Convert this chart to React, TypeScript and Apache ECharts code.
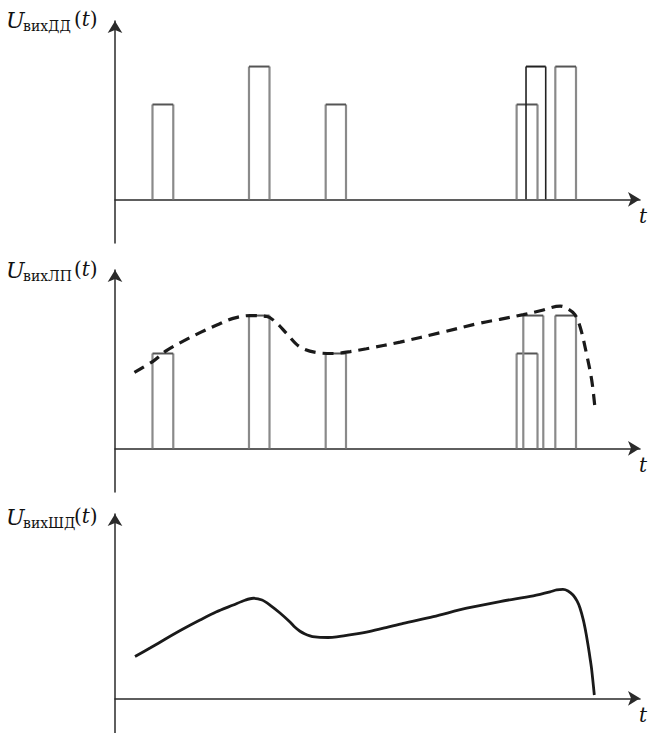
import React, { useEffect, useRef } from "react";
import * as echarts from "echarts";

// time positions (arbitrary units, 0..100 along t) of the pulse edges
const pulseStartsDD = [7.14, 25.52, 40.13, 76.5, 78.29, 83.87];
const pulseEndsDD = [11.1, 29.43, 44.0, 80.48, 82.04, 87.81];
const pulseStartsLP = [7.14, 25.52, 40.13, 76.5, 77.77, 83.87];
const pulseEndsLP = [11.1, 29.43, 44.0, 80.48, 81.58, 87.81];
const pulseHeights = [1.0, 1.4, 1.0, 1.0, 1.4, 1.4];

// envelope (dashed) in panel 2
const envT = [3.7, 7.3, 9.8, 13.0, 16.2, 19.4, 22.5, 25.7, 28.9, 30.8, 32.7, 35.2, 38.4, 41.6, 44.8, 47.9, 54.3, 62.0, 69.5, 73.3, 77.8, 81.0, 84.8, 86.3, 87.6, 88.6, 89.8, 90.8, 91.4];
const envU = [0.8, 0.92, 1.03, 1.13, 1.22, 1.3, 1.37, 1.4, 1.39, 1.32, 1.21, 1.07, 1.01, 1.0, 1.02, 1.05, 1.12, 1.22, 1.32, 1.36, 1.41, 1.45, 1.5, 1.47, 1.41, 1.28, 1.0, 0.72, 0.44];

// output curve in panel 3
const outT = [3.81, 6.67, 9.85, 12.95, 16.19, 19.24, 22.53, 24.76, 26.34, 28.0, 29.52, 31.43, 33.33, 34.29, 35.24, 36.19, 37.14, 38.1, 39.05, 40.57, 42.23, 45.33, 48.57, 51.62, 54.91, 60.63, 66.99, 73.33, 79.68, 82.86, 84.13, 85.33, 86.29, 87.24, 88.0, 88.57, 89.2, 89.71, 90.15, 90.48, 90.8, 91.3];
const outU = [0.44, 0.529, 0.632, 0.729, 0.824, 0.908, 0.982, 1.032, 1.053, 1.035, 0.982, 0.898, 0.803, 0.748, 0.706, 0.677, 0.658, 0.646, 0.641, 0.64, 0.646, 0.672, 0.705, 0.745, 0.79, 0.86, 0.949, 1.019, 1.079, 1.12, 1.141, 1.146, 1.13, 1.088, 1.025, 0.951, 0.825, 0.688, 0.544, 0.425, 0.3, 0.035];

const subscripts = ["вихДД", "вихЛП", "вихШД"];
const timeLabel = "t";

const zip = (a: number[], b: number[]) => a.map((v, i) => [v, b[i]]);
const pulseData = (s: number[], e: number[]) => s.map((v, i) => [v, e[i], pulseHeights[i]]);

export default function App() {
  const ref = useRef<HTMLDivElement>(null);
  useEffect(() => {
    if (!ref.current) return;
    const chart = echarts.init(ref.current, null, { renderer: "svg" });
    const axisColor = "#2a2a2a";
    const panels = [
      { top: 21, height: 222, min: -0.46, max: 1.88, baseline: 199.4 },
      { top: 270, height: 222, min: -0.46, max: 1.88, baseline: 448.4 },
      { top: 514, height: 219, min: -0.365, max: 1.94, baseline: 698.3 },
    ];
    const grid = panels.map((p) => ({
      left: 115,
      width: 525,
      top: p.top,
      height: p.height,
      containLabel: false,
      outerBoundsMode: "none",
    }));
    const axisLine = {
      show: true,
      onZero: true,
      symbol: ["none", "arrow"],
      symbolSize: [11, 12],
      lineStyle: { color: axisColor, width: 1.5 },
    };
    const xAxis = panels.map((_, i) => ({
      type: "value",
      gridIndex: i,
      min: 0,
      max: 100,
      axisLine,
      axisTick: { show: false },
      axisLabel: { show: false },
      splitLine: { show: false },
    }));
    const yAxis = panels.map((p, i) => ({
      type: "value",
      gridIndex: i,
      min: p.min,
      max: p.max,
      axisLine,
      axisTick: { show: false },
      axisLabel: { show: false },
      splitLine: { show: false },
    }));

    const pulseRender = (darkIndex: number) => (params: any, api: any) => {
      const s = api.value(0);
      const e = api.value(1);
      const h = api.value(2);
      const a = api.coord([s, 0]);
      const b = api.coord([s, h]);
      const c = api.coord([e, h]);
      const d = api.coord([e, 0]);
      const dark = params.dataIndex === darkIndex;
      const side = dark ? "#222" : "#8a8a8a";
      const sw = dark ? 1.6 : 2.2;
      return {
        type: "group",
        children: [
          { type: "polyline", shape: { points: [a, b] }, style: { stroke: side, lineWidth: sw, fill: null } },
          { type: "polyline", shape: { points: [d, c] }, style: { stroke: side, lineWidth: sw, fill: null } },
          { type: "polyline", shape: { points: [b, c] }, style: { stroke: dark ? "#222" : "#555", lineWidth: 2, fill: null } },
        ],
      };
    };

    const series: any[] = [
      {
        type: "custom",
        xAxisIndex: 0,
        yAxisIndex: 0,
        renderItem: pulseRender(4),
        encode: { x: [0, 1], y: 2 },
        data: pulseData(pulseStartsDD, pulseEndsDD),
        silent: true,
      },
      {
        type: "custom",
        xAxisIndex: 1,
        yAxisIndex: 1,
        renderItem: pulseRender(-1),
        encode: { x: [0, 1], y: 2 },
        data: pulseData(pulseStartsLP, pulseEndsLP),
        silent: true,
      },
      {
        type: "line",
        xAxisIndex: 1,
        yAxisIndex: 1,
        data: zip(envT, envU),
        showSymbol: false,
        smooth: 0.35,
        lineStyle: { color: "#1a1a1a", width: 3.2, type: [11, 7] },
        z: 5,
        silent: true,
      },
      {
        type: "line",
        xAxisIndex: 2,
        yAxisIndex: 2,
        data: zip(outT, outU),
        showSymbol: false,
        smooth: 0.3,
        lineStyle: { color: "#1a1a1a", width: 2.8 },
        silent: true,
      },
    ];

    const labelOffsets = [0, 250, 497];
    const graphic: any[] = [];
    labelOffsets.forEach((dy, i) => {
      graphic.push(
        {
          type: "text",
          left: 6,
          top: 9 + dy,
          style: { text: "U", font: "italic 22px 'DejaVu Serif'", fill: "#111" },
        },
        {
          type: "text",
          left: 23,
          top: 19 + dy,
          style: { text: subscripts[i], font: "14px 'DejaVu Serif'", fill: "#111" },
        },
        {
          type: "text",
          left: 74,
          top: 9 + dy,
          style: {
            text: "{p|(}{t|t}{p|)}",
            rich: {
              p: { font: "20px 'DejaVu Serif'", fill: "#111" },
              t: { font: "italic 20px 'DejaVu Serif'", fill: "#111" },
            },
          },
        }
      );
      graphic.push({
        type: "text",
        left: 639,
        top: panels[i].baseline + 7,
        style: { text: timeLabel, font: "italic 20px 'DejaVu Serif'", fill: "#111" },
      });
    });

    chart.setOption({
      animation: false,
      backgroundColor: "#fff",
      grid,
      xAxis,
      yAxis,
      series,
      graphic,
    });
    return () => chart.dispose();
  }, []);
  return (
    <div
      ref={ref}
      style={{ position: "fixed", left: 0, top: 0, width: 653, height: 733, background: "#fff" }}
    />
  );
}
